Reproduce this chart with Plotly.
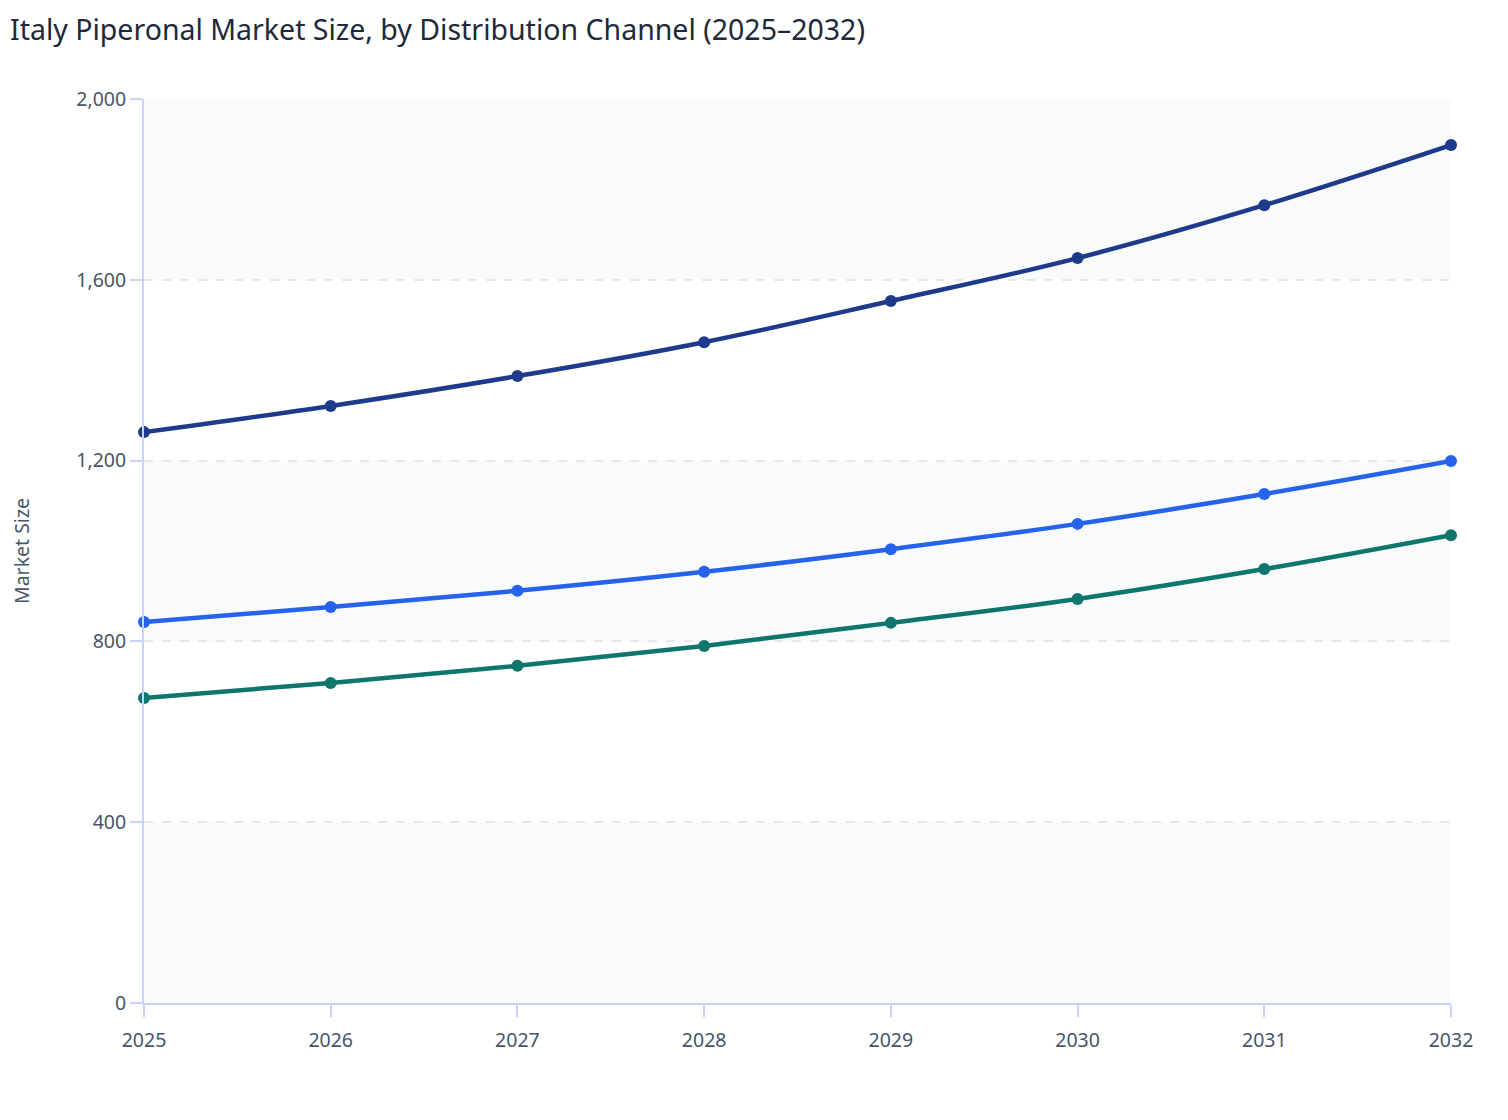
import plotly.graph_objects as go

# Data
years = [2025, 2026, 2027, 2028, 2029, 2030, 2031, 2032]
direct_sales = [1263, 1321, 1387, 1462, 1553, 1648, 1765, 1898]
distributors = [843, 876, 912, 954, 1004, 1060, 1126, 1199]
online = [675, 708, 746, 790, 841, 894, 960, 1035]
y_ticks = [0, 400, 800, 1200, 1600, 2000]

series = [
    ("Direct Sales", direct_sales, "#1e3a8a"),
    ("Distributors", distributors, "#2563eb"),
    ("Online", online, "#0f766e"),
]

W, H = 1508, 1120
L, R, T, B = 136, 65, 91, 125
plot_w = W - L - R
plot_h = H - T - B

fig = go.Figure()
for name, values, color in series:
    fig.add_trace(go.Scatter(
        x=years,
        y=values,
        name=name,
        mode="lines+markers",
        line=dict(color=color, width=4.5, shape="spline"),
        marker=dict(color=color, size=12),
        cliponaxis=False,
        showlegend=False,
    ))

# alternating background bands between y ticks
shapes = []
for i in range(0, len(y_ticks) - 1, 2):
    shapes.append(dict(
        type="rect", xref="paper", yref="y",
        x0=0, x1=1, y0=y_ticks[i], y1=y_ticks[i + 1],
        fillcolor="#f8fafc", line=dict(width=0), layer="below",
    ))

# title as an annotation pinned to the top-left corner of the figure
title = dict(
    text="Italy Piperonal Market Size, by Distribution Channel (2025\u20132032)",
    xref="paper", yref="paper",
    x=-L / plot_w, y=1 + T / plot_h,
    xanchor="left", yanchor="top",
    showarrow=False,
    font=dict(size=28.5, color="#1e293b"),
)

fig.update_layout(
    width=W,
    height=H,
    font=dict(family="Noto Sans, Open Sans, sans-serif", size=19.5, color="#475569"),
    plot_bgcolor="white",
    paper_bgcolor="white",
    margin=dict(l=L, r=R, t=T, b=B, autoexpand=False),
    shapes=shapes,
    annotations=[title],
    xaxis=dict(
        range=[2025, 2032],
        tickmode="array",
        tickvals=years,
        ticktext=[str(y) for y in years],
        showgrid=False,
        showline=True,
        linecolor="#c7d2fe",
        linewidth=2,
        ticks="outside",
        tickcolor="#c7d2fe",
        tickwidth=2,
        ticklen=12,
        ticklabelstandoff=7,
        zeroline=False,
        automargin=False,
    ),
    yaxis=dict(
        title=dict(text="Market Size", font=dict(size=19.5, color="#475569"), standoff=54),
        range=[0, 2000],
        tickmode="array",
        tickvals=y_ticks,
        tickformat=",",
        showgrid=True,
        gridcolor="#e5e7eb",
        griddash="dash",
        gridwidth=1.5,
        showline=True,
        linecolor="#c7d2fe",
        linewidth=2,
        ticks="outside",
        tickcolor="#c7d2fe",
        tickwidth=2,
        ticklen=12,
        zeroline=False,
        automargin=False,
    ),
)

fig.write_html("out.html")
